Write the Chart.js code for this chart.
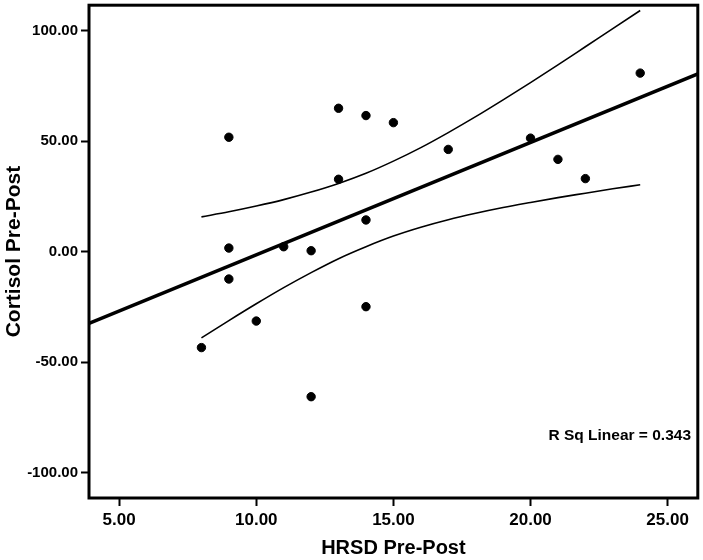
<!DOCTYPE html>
<html>
<head>
<meta charset="utf-8">
<script src="https://cdn.jsdelivr.net/npm/chart.js@4"></script>
<style>
  html, body { margin: 0; padding: 0; background: #fff; }
  #wrap { width: 703px; height: 560px; }
</style>
</head>
<body>
<div id="wrap"><canvas id="c" width="703" height="560"></canvas></div>
<script>
// ---- Data ----
const hrsd     = [8, 9, 9, 9, 10, 11, 12, 12, 13, 13, 14, 14, 14, 15, 17, 20, 21, 22, 24];
const cortisol = [-43.4, 51.7, 1.6, -12.4, -31.4, 2.2, 0.4, -65.6, 64.8, 32.7, 61.5, 14.3, -24.9, 58.3, 46.2, 51.3, 41.7, 33.0, 80.7];

const fitX = [3.9, 26.1];
const fitY = [-32.5, 80.3];

const bandX     = [8, 9, 10, 11, 12, 13, 14, 15, 16, 17, 18, 19, 20, 21, 22, 23, 24];
const bandUpper = [15.7, 18.0, 20.6, 23.5, 26.9, 30.8, 35.4, 40.9, 47.0, 53.8, 61.0, 68.6, 76.4, 84.4, 92.6, 100.8, 109.0];
const bandLower = [-39.0, -31.2, -23.6, -16.3, -9.5, -3.2, 2.2, 7.0, 11.0, 14.4, 17.3, 19.9, 22.2, 24.4, 26.4, 28.4, 30.2];

const xTicks = [5, 10, 15, 20, 25];
const yTicks = [-100, -50, 0, 50, 100];

const xTitle = 'HRSD Pre-Post';
const yTitle = 'Cortisol Pre-Post';
const rsqLabel = 'R Sq Linear = 0.343';

// ---- Build ----
const pts = (xs, ys) => xs.map((x, i) => ({ x: x, y: ys[i] }));
const FONT = "'Liberation Sans', Arial, sans-serif";

const framePlugin = {
  id: 'frame',
  afterDraw(chart) {
    const { ctx, chartArea: a } = chart;
    ctx.save();
    ctx.strokeStyle = '#000';
    ctx.lineWidth = 3;
    ctx.strokeRect(a.left, a.top, a.right - a.left, a.bottom - a.top);
    ctx.fillStyle = '#000';
    ctx.font = 'bold 15.5px ' + FONT;
    ctx.textAlign = 'right';
    ctx.textBaseline = 'middle';
    ctx.fillText(rsqLabel, 691, 436);
    ctx.restore();
  }
};

new Chart(document.getElementById('c'), {
  type: 'scatter',
  data: {
    datasets: [
      {
        label: 'points',
        data: pts(hrsd, cortisol),
        backgroundColor: '#000',
        borderColor: '#000',
        pointRadius: 4.2,
        pointHoverRadius: 4.2,
        showLine: false
      },
      {
        label: 'fit',
        data: pts(fitX, fitY),
        showLine: true,
        borderColor: '#000',
        borderWidth: 3.5,
        pointRadius: 0,
        fill: false
      },
      {
        label: 'upper',
        data: pts(bandX, bandUpper),
        showLine: true,
        borderColor: '#000',
        borderWidth: 1.6,
        pointRadius: 0,
        cubicInterpolationMode: 'monotone',
        fill: false
      },
      {
        label: 'lower',
        data: pts(bandX, bandLower),
        showLine: true,
        borderColor: '#000',
        borderWidth: 1.6,
        pointRadius: 0,
        cubicInterpolationMode: 'monotone',
        fill: false
      }
    ]
  },
  options: {
    responsive: false,
    animation: false,
    events: [],
    layout: { padding: { top: 3, right: 3, left: 0, bottom: 0 } },
    plugins: {
      legend: { display: false },
      tooltip: { enabled: false }
    },
    scales: {
      x: {
        type: 'linear',
        min: 3.9,
        max: 26.1,
        afterBuildTicks: (s) => { s.ticks = xTicks.map(v => ({ value: v })); },
        afterFit: (s) => { s.height = 62; s.paddingLeft = 0; s.paddingRight = 0; },
        grid: {
          drawOnChartArea: false,
          drawTicks: true,
          tickLength: 8,
          tickWidth: 2,
          tickColor: '#000'
        },
        border: { display: false },
        ticks: {
          color: '#000',
          font: { family: FONT, size: 17, weight: 'bold' },
          padding: 4,
          maxRotation: 0,
          callback: (v) => Number(v).toFixed(2)
        },
        title: {
          display: true,
          text: xTitle,
          color: '#000',
          font: { family: FONT, size: 20, weight: 'bold', lineHeight: 1.2 },
          padding: { top: 0, bottom: 0 }
        }
      },
      y: {
        type: 'linear',
        min: -111.4,
        max: 111.4,
        afterBuildTicks: (s) => { s.ticks = yTicks.map(v => ({ value: v })); },
        afterFit: (s) => { s.width = 89; s.paddingTop = 0; s.paddingBottom = 0; },
        grid: {
          drawOnChartArea: false,
          drawTicks: true,
          tickLength: 8,
          tickWidth: 2,
          tickColor: '#000'
        },
        border: { display: false },
        ticks: {
          color: '#000',
          font: { family: FONT, size: 15, weight: 'bold' },
          padding: 3,
          callback: (v) => Number(v).toFixed(2)
        },
        title: {
          display: true,
          text: yTitle,
          color: '#000',
          font: { family: FONT, size: 21, weight: 'bold', lineHeight: 1.2 },
          padding: { top: 2, bottom: 0 }
        }
      }
    }
  },
  plugins: [framePlugin]
});
</script>
</body>
</html>
